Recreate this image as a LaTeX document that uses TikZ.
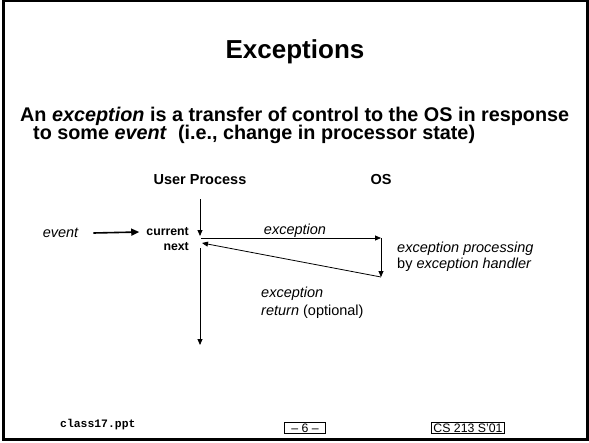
\documentclass[tikz,border=0pt]{standalone}
\usepackage{fontspec}
\setmainfont{Liberation Sans}
\setmonofont{Liberation Mono}
\usetikzlibrary{positioning, arrows.meta}

\begin{document}
\begin{tikzpicture}[x=1pt, y=-1pt,
    body/.style={font=\fontsize{19.8}{22}\selectfont\bfseries, inner sep=0pt},
    lbl/.style={font=\fontsize{14.5}{17}\selectfont, inner sep=0pt},
    hdr/.style={font=\fontsize{14.5}{17}\selectfont\bfseries, inner sep=0pt},
    instr/.style={font=\fontsize{12.3}{14}\selectfont\bfseries, inner sep=0pt, anchor=east},
    flow/.style={-{Triangle[length=6pt,width=5pt]}, line width=0.8pt},
    tag/.style={draw, line width=0.8pt, font=\fontsize{12.3}{14}\selectfont, inner xsep=2pt, inner ysep=1.5pt}]
    \useasboundingbox (0,0) rectangle (589,442);
    \draw[line width=3pt] (3.5,0.5) rectangle (587,439.5);
    % heading and statement
    \node[font=\fontsize{26}{30}\selectfont\bfseries, anchor=base] (title) at (295,58) {Exceptions};
    \node[body, anchor=base west] (line1) at (20,121) {An \textit{exception} is a transfer of control to the OS in response};
    \node[body, anchor=base west] (line2) at (33,139) {to some \textit{event}\ \ (i.e., change in processor state)};
    % the two columns
    \node[hdr] (user) at (200,180) {User Process};
    \node[hdr] (os) at (381,180) {OS};
    \coordinate (u0) at (200,199); \coordinate (u1) at (200,236);
    \coordinate (u2) at (200,248); \coordinate (u3) at (200,345);
    \coordinate (h0) at (201,238); \coordinate (o0) at (381,238);
    \coordinate (o1) at (381,277); \coordinate (r1) at (202,243);
    \node[instr] (current) at (189,232) {current};
    \node[instr] (next) at (189,247) {next};
    \node[lbl, font=\fontsize{14.5}{17}\selectfont\itshape] (event) at (60.5,233) {event};
    \draw[-{Triangle[length=8pt,width=7pt]}, line width=1.6pt] ([xshift=15pt]event.east) -- ([xshift=-7pt]current.west);
    \draw[flow] (u0) -- (u1);
    \draw[flow] (h0) -- (o0);
    \draw[flow] (o0) -- (o1);
    \draw[flow] (o1) -- (r1);
    \draw[flow] (u2) -- (u3);
    % labels on the transfers
    \node[lbl, font=\fontsize{14.5}{17}\selectfont\itshape] (exc) at (295,231) {exception};
    \node[lbl, anchor=west] (proc) at (397,249) {\itshape exception processing};
    \node[lbl, anchor=west] (handler) at (397,265) {by \textit{exception handler}};
    \node[lbl, anchor=west] (ret1) at (261,294) {\itshape exception};
    \node[lbl, anchor=west] (ret2) at (261,312) {\textit{return} (optional)};
    % footer
    \node[font=\fontsize{11.4}{13}\ttfamily\bfseries, anchor=west, inner sep=0pt] (file) at (60,425) {class17.ppt};
    \node[tag, inner xsep=7pt] (page) at (305,428) {– 6 –};
    \node[tag] (course) at (468,428) {CS 213 S'01};
\end{tikzpicture}
\end{document}
